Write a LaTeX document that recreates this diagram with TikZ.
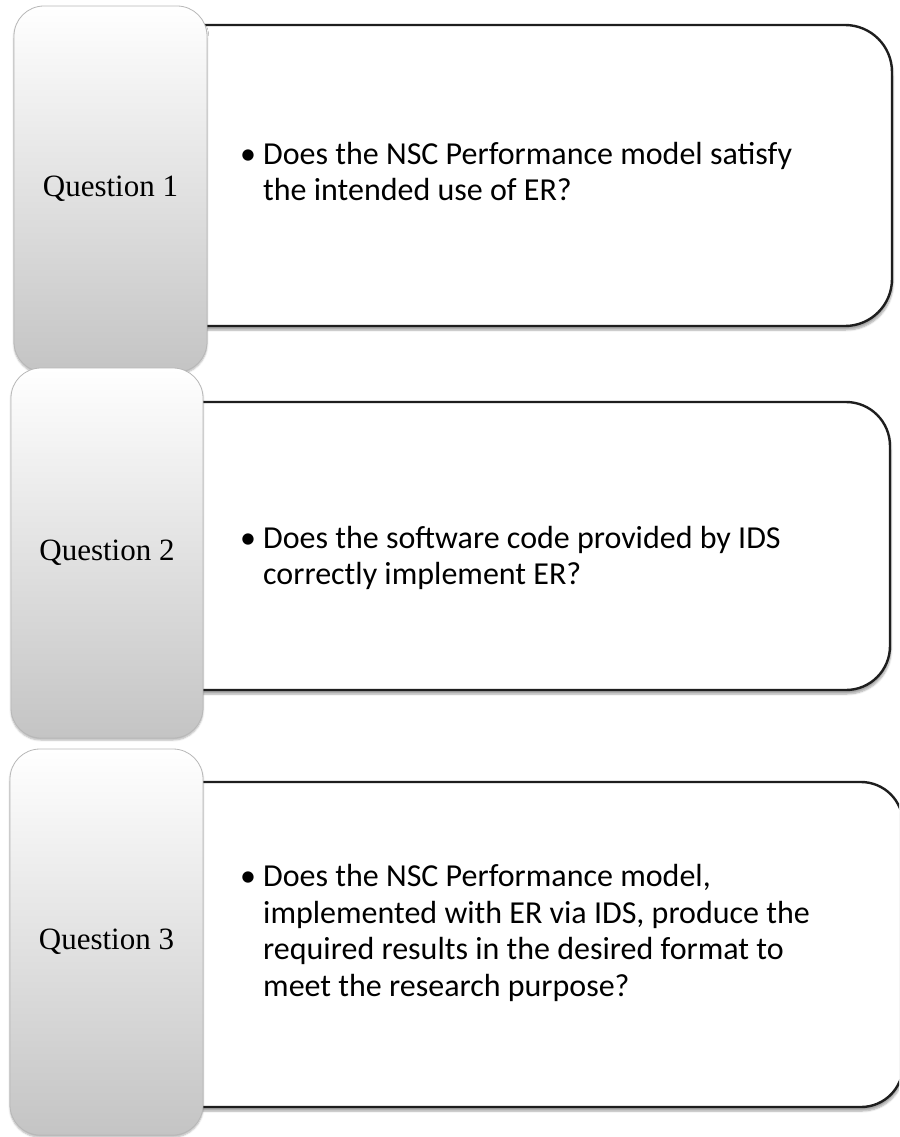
\documentclass[tikz,border=0pt]{standalone}
\usepackage{fontspec}
\setmainfont{Liberation Serif}
\newfontfamily\bodyfont{Carlito}
\usetikzlibrary{shadows.blur}
\definecolor{boxline}{HTML}{1E1E1E}
\definecolor{qline}{HTML}{B8B8B8}
\definecolor{qbottom}{HTML}{C4C4C4}
\begin{document}
\begin{tikzpicture}[x=1pt,y=-1pt,
  ansbox/.style={draw=boxline, line width=2.4pt, fill=white, rounded corners=#1, inner sep=0pt,
    blur shadow={shadow xshift=1pt, shadow yshift=-4pt, shadow opacity=35, shadow blur steps=6}},
  qbox/.style={draw=qline, line width=0.8pt, rounded corners=30pt, top color=white, bottom color=qbottom,
    inner sep=0pt, font=\fontsize{31}{36}\selectfont,
    blur shadow={shadow xshift=0pt, shadow yshift=-2pt, shadow opacity=30, shadow blur steps=5}},
  qtext/.style={anchor=west, inner sep=0pt, font=\bodyfont\fontsize{32}{36.5}\selectfont}
]
\useasboundingbox (0,0) rectangle (899,1137);
\clip (0,0) rectangle (899,1137);

% Row 1
\node[ansbox=47pt, minimum width=772pt, minimum height=301pt] (a1) at (506,175.5) {};
\node[qbox, minimum width=193pt, minimum height=366pt] (q1) at (110.5,189) {Question 1};
% Row 2
\node[ansbox=44pt, minimum width=770pt, minimum height=288pt] (a2) at (505,546) {};
\node[qbox, minimum width=192pt, minimum height=370pt] (q2) at (107,553) {Question 2};
% Row 3
\node[ansbox=42pt, minimum width=783pt, minimum height=325pt] (a3) at (511.5,944.5) {};
\node[qbox, minimum width=193pt, minimum height=386pt] (q3) at (106.5,942) {Question 3};

% Texts
\node[qtext] (t1) at (240,175) {\begin{tabular}{@{}l@{}l@{}}\makebox[23pt][l]{\textbullet} & Does the NSC Performance model satisfy\\ & the intended use of ER?\end{tabular}};
\node[qtext] (t2) at (240,559) {\begin{tabular}{@{}l@{}l@{}}\makebox[23pt][l]{\textbullet} & Does the software code provided by IDS\\ & correctly implement ER?\end{tabular}};
\node[qtext] (t3) at (240,934) {\begin{tabular}{@{}l@{}l@{}}\makebox[23pt][l]{\textbullet} & Does the NSC Performance model,\\ & implemented with ER via IDS, produce the\\ & required results in the desired format to\\ & meet the research purpose?\end{tabular}};
\end{tikzpicture}
\end{document}
